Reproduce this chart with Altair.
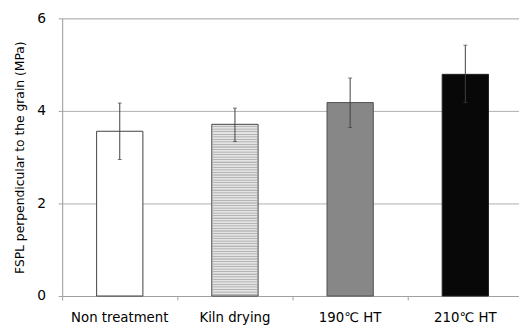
import altair as alt
import pandas as pd

categories = ["Non treatment", "Kiln drying", "190\u2103 HT", "210\u2103 HT"]
means = [3.56, 3.71, 4.18, 4.79]
err_low = [2.95, 3.34, 3.64, 4.18]
err_high = [4.17, 4.06, 4.71, 5.42]
fills = ["#ffffff", "#e4e4e4", "#878787", "#080808"]
strokes = ["#404040", "#404040", "#505050", "#202020"]

df = pd.DataFrame({
    "cat": categories, "mean": means, "lo": err_low, "hi": err_high,
    "fill": fills, "stroke": strokes,
})

FONT = "DejaVu Sans"
xscale = alt.Scale(domain=categories, range=[0, 468], paddingInner=0, paddingOuter=0)
yscale = alt.Scale(domain=[0, 6])

x = alt.X("cat:N", scale=xscale, sort=categories, title=None,
          axis=alt.Axis(labelAngle=0, labelFontSize=13.5, labelFont=FONT, labelColor="#000",
                        domainColor="#a0a0a0", tickColor="#a0a0a0", tickSize=4,
                        bandPosition=0, labelPadding=11, grid=False))

base = alt.Chart(df)

bars = base.mark_bar(size=47, strokeWidth=1).encode(
    x=x,
    y=alt.Y("mean:Q", scale=yscale,
            title="FSPL perpendicular to the grain (MPa)",
            axis=alt.Axis(values=[0, 2, 4, 6], labelFontSize=14, labelFont=FONT,
                          labelColor="#000", titleFont=FONT, titleFontSize=12.5,
                          titleFontWeight="normal", titleColor="#000", titlePadding=10,
                          domainColor="#a0a0a0", tickColor="#a0a0a0", tickSize=4,
                          gridColor="#b0b0b0", labelPadding=13)),
    fill=alt.Fill("fill:N", scale=None),
    stroke=alt.Stroke("stroke:N", scale=None),
)

kiln = df[df["cat"] == "Kiln drying"]
kiln_val = float(kiln["mean"].iloc[0])
texture = alt.Chart(alt.sequence(0.03, kiln_val, 0.055, as_="v")).transform_calculate(
    cat="'Kiln drying'"
).mark_tick(size=45, thickness=0.8, color="#8a8a8a", strokeDash=[1.2, 1.8]).encode(
    x=alt.X("cat:N", scale=xscale, sort=categories),
    y=alt.Y("v:Q", scale=yscale),
)

rules = base.mark_rule(color="#404040", strokeWidth=1).encode(
    x=alt.X("cat:N", scale=xscale, sort=categories), y="lo:Q", y2="hi:Q")
caps_hi = base.mark_tick(size=4, thickness=1, color="#404040", orient="horizontal").encode(
    x=alt.X("cat:N", scale=xscale, sort=categories), y="hi:Q")
caps_lo = base.mark_tick(size=4, thickness=1, color="#404040", orient="horizontal").encode(
    x=alt.X("cat:N", scale=xscale, sort=categories), y="lo:Q")

chart = alt.layer(bars, texture, rules, caps_hi, caps_lo).properties(
    width=464, height=282,
    autosize=alt.AutoSizeParams(type="none"),
    padding={"left": 55, "top": 8, "right": 0, "bottom": 31},
).configure_view(stroke=None).configure(background="white")

chart.save("out.html", embed_options={"renderer": "svg", "actions": False})
